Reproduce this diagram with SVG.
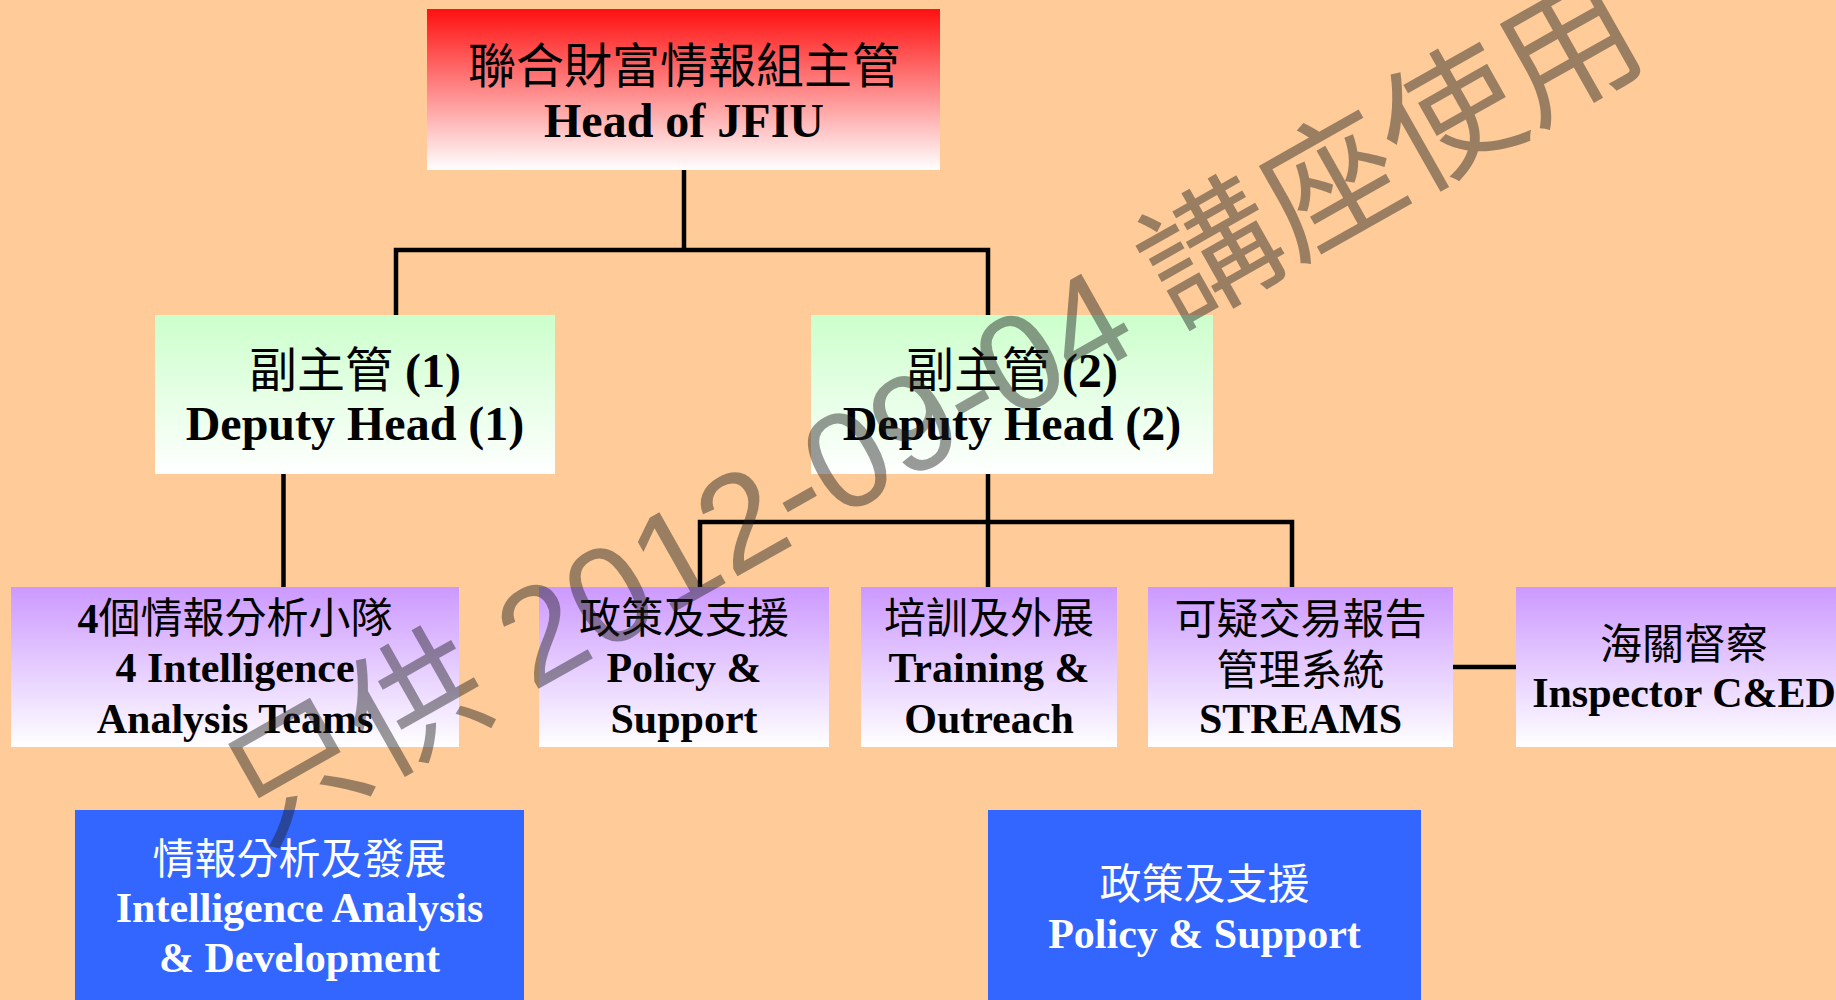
<svg xmlns="http://www.w3.org/2000/svg" width="1836" height="1000" viewBox="0 0 1836 1000">
<defs>
<linearGradient id="gRed" x1="0" y1="0" x2="0" y2="1"><stop offset="0" stop-color="#FF1010"/><stop offset="1" stop-color="#FFFFFF"/></linearGradient>
<linearGradient id="gGreen" x1="0" y1="0" x2="0" y2="1"><stop offset="0" stop-color="#CCFFCC"/><stop offset="1" stop-color="#FFFFFF"/></linearGradient>
<linearGradient id="gPurple" x1="0" y1="0" x2="0" y2="1"><stop offset="0" stop-color="#CC99FF"/><stop offset="1" stop-color="#FFFFFF"/></linearGradient>
</defs>
<style>
.t48{font-size:48px;text-anchor:middle;fill:#000}
.t42{font-size:42px;text-anchor:middle;fill:#000}
.wt{fill:#FFFFFF}
.en{font-family:"Liberation Serif","Times New Roman",serif;font-weight:bold}
.zh{font-family:"Noto Sans CJK TC","Noto Sans CJK SC",sans-serif;font-weight:normal}
.blue{fill:#3366FF}
.conn{stroke:#000;stroke-width:4.5;fill:none;stroke-linecap:square}
.wm{font-family:"Liberation Sans","Noto Sans CJK TC",sans-serif;font-size:137px;fill:#202020;fill-opacity:0.45}
</style>
<rect x="0" y="0" width="1836" height="1000" fill="#FFCC99"/>
<g id="connectors">
<path class="conn" d="M684,170 V250 M396,250 H988 M396,250 V315 M988,250 V315"/>
<path class="conn" d="M283.5,474 V587"/>
<path class="conn" d="M988,474 V587 M700,522 H1292 M700,522 V587 M1292,522 V587"/>
<path class="conn" d="M1453,667 H1516"/>
</g>
<g id="head">
<rect x="427" y="9" width="513" height="161" fill="url(#gRed)"/>
<text class="t48 zh" x="684" y="83">聯合財富情報組主管</text>
<text class="t48 en" x="684" y="137">Head of JFIU</text>
</g>
<g id="deputy1">
<rect x="155" y="315" width="400" height="159" fill="url(#gGreen)"/>
<text class="t48" x="355" y="387"><tspan class="zh">副主管</tspan><tspan class="en"> (1)</tspan></text>
<text class="t48 en" x="355" y="440">Deputy Head (1)</text>
</g>
<g id="deputy2">
<rect x="811" y="315" width="402" height="159" fill="url(#gGreen)"/>
<text class="t48" x="1012" y="387"><tspan class="zh">副主管</tspan><tspan class="en"> (2)</tspan></text>
<text class="t48 en" x="1012" y="440">Deputy Head (2)</text>
</g>
<g id="teams">
<rect x="11" y="587" width="448" height="160" fill="url(#gPurple)"/>
<text class="t42" x="235" y="633"><tspan class="en">4</tspan><tspan class="zh">個情報分析小隊</tspan></text>
<text class="t42 en" x="235" y="682">4 Intelligence</text>
<text class="t42 en" x="235" y="733">Analysis Teams</text>
</g>
<g id="policy">
<rect x="539" y="587" width="290" height="160" fill="url(#gPurple)"/>
<text class="t42 zh" x="684" y="633">政策及支援</text>
<text class="t42 en" x="684" y="682">Policy &amp;</text>
<text class="t42 en" x="684" y="733">Support</text>
</g>
<g id="training">
<rect x="861" y="587" width="256" height="160" fill="url(#gPurple)"/>
<text class="t42 zh" x="989" y="633">培訓及外展</text>
<text class="t42 en" x="989" y="682">Training &amp;</text>
<text class="t42 en" x="989" y="733">Outreach</text>
</g>
<g id="streams">
<rect x="1148" y="587" width="305" height="160" fill="url(#gPurple)"/>
<text class="t42 zh" x="1300.5" y="634">可疑交易報告</text>
<text class="t42 zh" x="1300.5" y="685">管理系統</text>
<text class="t42 en" x="1300.5" y="733">STREAMS</text>
</g>
<g id="inspector">
<rect x="1516" y="587" width="340" height="160" fill="url(#gPurple)"/>
<text class="t42 zh" x="1684" y="659">海關督察</text>
<text class="t42 en" x="1684" y="707">Inspector C&amp;ED</text>
</g>
<g id="iad">
<rect class="blue" x="75" y="810" width="449" height="200"/>
<text class="t42 zh wt" x="299.5" y="874">情報分析及發展</text>
<text class="t42 en wt" x="299.5" y="922">Intelligence Analysis</text>
<text class="t42 en wt" x="299.5" y="972">&amp; Development</text>
</g>
<g id="ps">
<rect class="blue" x="988" y="810" width="433" height="200"/>
<text class="t42 zh wt" x="1204.5" y="899">政策及支援</text>
<text class="t42 en wt" x="1204.5" y="948">Policy &amp; Support</text>
</g>
<g id="watermark">
<text class="wm" transform="translate(261,846) rotate(-29.5)">只供 2012-09-04 講座使用</text>
</g>
</svg>
